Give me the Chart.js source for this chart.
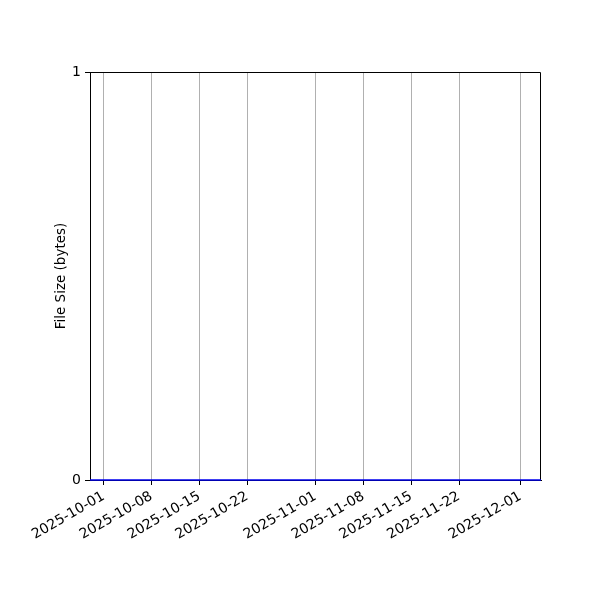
<!DOCTYPE html>
<html>
<head>
<meta charset="utf-8">
<script src="https://cdn.jsdelivr.net/npm/chart.js@4"></script>
<style>
  html, body { margin: 0; padding: 0; background: #fff; }
  #wrap { width: 600px; height: 600px; }
</style>
</head>
<body>
<div id="wrap"><canvas id="chart" width="600" height="600"></canvas></div>
<script>
// data
const dates = ['2025-09-29', '2025-10-15', '2025-11-01', '2025-11-15', '2025-12-04'];
const sizes = [0, 0, 0, 0, 0];
const tickDates = ['2025-10-01', '2025-10-08', '2025-10-15', '2025-10-22', '2025-11-01',
                   '2025-11-08', '2025-11-15', '2025-11-22', '2025-12-01'];
const yTicks = [0, 1];

const DAY = 86400000;
const base = Date.UTC(2025, 9, 1);
const toDay = s => {
  const p = s.split('-').map(Number);
  return (Date.UTC(p[0], p[1] - 1, p[2]) - base) / DAY;
};

const points = dates.map((d, i) => ({ x: toDay(d), y: sizes[i] }));
const tickDays = tickDates.map(toDay);

// top and right edges of the box (left/bottom come from the axes)
const frame = {
  id: 'frame',
  beforeDatasetsDraw(chart) {
    const a = chart.chartArea, c = chart.ctx;
    c.save();
    c.strokeStyle = '#000';
    c.lineWidth = 1;
    c.beginPath();
    c.moveTo(a.left, a.top + 0.5);
    c.lineTo(a.right - 0.5, a.top + 0.5);
    c.lineTo(a.right - 0.5, a.bottom);
    c.stroke();
    c.restore();
  }
};

const font = { family: 'DejaVu Sans', size: 14 };

const ctx = document.getElementById('chart').getContext('2d');
new Chart(ctx, {
  type: 'line',
  data: {
    datasets: [{
      data: points,
      borderColor: '#0000ee',
      borderWidth: 1.5,
      pointRadius: 0,
      tension: 0,
      clip: false
    }]
  },
  options: {
    responsive: false,
    animation: false,
    layout: { padding: { top: 72, right: 59, left: 53, bottom: 0 } },
    plugins: { legend: { display: false }, tooltip: { enabled: false } },
    scales: {
      x: {
        type: 'linear',
        min: toDay(dates[0]),
        max: toDay(dates[dates.length - 1]),
        afterBuildTicks: s => { s.ticks = tickDays.map(v => ({ value: v })); },
        afterFit: s => { s.height = 120; },
        ticks: {
          color: '#000',
          font: font,
          minRotation: 30,
          maxRotation: 30,
          autoSkip: false,
          padding: 3,
          callback: (v) => {
            const i = tickDays.indexOf(v);
            return i >= 0 ? tickDates[i] : '';
          }
        },
        grid: { color: '#b0b0b0', lineWidth: 1, tickColor: '#000', tickLength: 5 },
        border: { color: '#000', width: 1 }
      },
      y: {
        min: 0,
        max: 1,
        afterBuildTicks: s => { s.ticks = yTicks.map(v => ({ value: v })); },
        afterFit: s => { s.width = 37; },
        title: {
          display: true,
          text: 'File Size (bytes)',
          color: '#000',
          font: { family: 'DejaVu Sans', size: 13.5 },
          padding: 0
        },
        ticks: {
          color: '#000',
          font: font,
          padding: 4
        },
        grid: { drawOnChartArea: false, tickColor: '#000', tickLength: 5 },
        border: { color: '#000', width: 1 }
      }
    }
  },
  plugins: [frame]
});
</script>
</body>
</html>
